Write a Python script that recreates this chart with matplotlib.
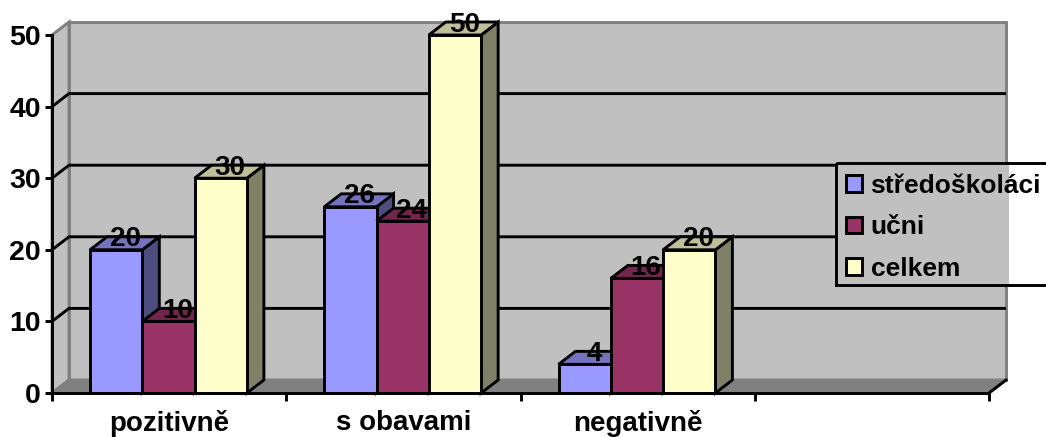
import matplotlib
matplotlib.use('Agg')
import matplotlib.pyplot as plt
from matplotlib.patches import Polygon, Rectangle, Patch
from matplotlib.transforms import Affine2D

plt.rcParams['font.family'] = ['Liberation Sans', 'DejaVu Sans']
plt.rcParams['font.weight'] = 'bold'

# Data
categories = ['pozitivně', 's obavami', 'negativně', '']
stredoskolaci = [20, 26, 4]
ucni = [10, 24, 16]
celkem = [30, 50, 20]
y_ticks = [0, 10, 20, 30, 40, 50]

series = [
    ('středoškoláci', stredoskolaci, '#9999FF', '#7373BF', '#4D4D80'),
    ('učni', ucni, '#993366', '#73264D', '#4D1A33'),
    ('celkem', celkem, '#FFFFCC', '#BFBF99', '#808066'),
]

W, H = 1046, 437
fig = plt.figure(figsize=(W / 100, H / 100), dpi=100, facecolor='white')
ax = fig.add_axes([52 / W, (H - 393) / H, 937 / W, 358 / H])
ax.set_xlim(0, len(categories))
ax.set_ylim(0, 50)
ax.patch.set_visible(False)

# pixel coordinates measured from the top left, used for the legend box
px = Affine2D().scale(1, -1).translate(0, H)

# depth of the fake 3D box, in data units
dx = 17 / 234.25
dy = 13 / 7.16
LW = 2.1
n = len(categories)

# walls and floor
ax.add_patch(Polygon([(dx, dy), (n + dx, dy), (n + dx, 50 + dy), (dx, 50 + dy)],
                     fc='#C0C0C0', ec='#808080', lw=LW, clip_on=False, zorder=1))
ax.add_patch(Polygon([(0, 0), (dx, dy), (dx, 50 + dy), (0, 50)],
                     fc='#C0C0C0', ec='#808080', lw=LW, clip_on=False, zorder=1))
ax.add_patch(Polygon([(0, 0), (dx, dy), (n + dx, dy), (n, 0)],
                     fc='#808080', ec='#808080', lw=LW, clip_on=False, zorder=1))
ax.plot([n, n + dx], [0, dy], color='black', lw=LW, clip_on=False, zorder=2)

# gridlines on the back and side wall
for v in y_ticks[1:-1]:
    ax.plot([0, dx, n + dx], [v, v + dy, v + dy], color='black', lw=LW,
            clip_on=False, zorder=2, solid_joinstyle='miter', solid_capstyle='butt')

# bars
bar_w = 52.3 / 234.25
start = 38 / 234.25
for i in range(3):
    for j, (name, vals, front, top, side) in enumerate(series):
        x0 = i + start + j * bar_w
        x1 = x0 + bar_w
        v = vals[i]
        z = 3 + i + j * 0.1
        ax.add_patch(Polygon([(x1, 0), (x1 + dx, dy), (x1 + dx, v + dy), (x1, v)],
                             fc=side, ec='black', lw=LW, clip_on=False, zorder=z))
        ax.add_patch(Polygon([(x0, v), (x0 + dx, v + dy), (x1 + dx, v + dy), (x1, v)],
                             fc=top, ec='black', lw=LW, clip_on=False, zorder=z))
        ax.add_patch(Rectangle((x0, 0), bar_w, v, fc=front, ec='black', lw=LW,
                               clip_on=False, zorder=z))
        ax.text(x0 + bar_w / 2 + dx / 2 + 0.003, v + dy - 0.35, str(v), ha='center', va='center',
                fontsize=20, fontweight='bold', color='black', zorder=10, clip_on=False)

# axes
for s in ['top', 'right']:
    ax.spines[s].set_visible(False)
for s in ['left', 'bottom']:
    ax.spines[s].set_linewidth(LW)
    ax.spines[s].set_zorder(9)
ax.set_yticks(y_ticks)
ax.tick_params(axis='y', length=5, width=LW, labelsize=20.5, pad=3)
ax.set_xticks(range(n + 1))
ax.set_xticklabels([])
ax.tick_params(axis='x', which='major', length=6, width=LW)
ax.set_xticks([i + 0.5 for i in range(n)], minor=True)
ax.set_xticklabels(categories, minor=True)
ax.tick_params(axis='x', which='minor', length=0, labelsize=20, pad=12.5)
for lab in ax.get_yticklabels() + ax.get_xticklabels(minor=True):
    lab.set_fontweight('bold')

# legend box runs off the right side of the picture
fig.add_artist(Rectangle((836, 163), 172.5, 122, fc='#C0C0C0', ec='none',
                         transform=px, zorder=11))
fig.add_artist(Rectangle((836, 163), 230, 122, fc='none', ec='black', lw=LW,
                         transform=px, zorder=12))
handles = [Patch(fc=s[2], ec='black', lw=LW, label=s[0]) for s in series]
leg = fig.legend(handles=handles, loc='upper left', bbox_to_anchor=(846, 174),
                 bbox_transform=px, frameon=False, fontsize=19, borderpad=0,
                 borderaxespad=0, labelspacing=0.66, handlelength=0.6,
                 handleheight=0.6, handletextpad=0.33)
leg.set_zorder(13)
for t in leg.get_texts():
    t.set_fontweight('bold')

fig.savefig('out.png', dpi=100, facecolor='white')
